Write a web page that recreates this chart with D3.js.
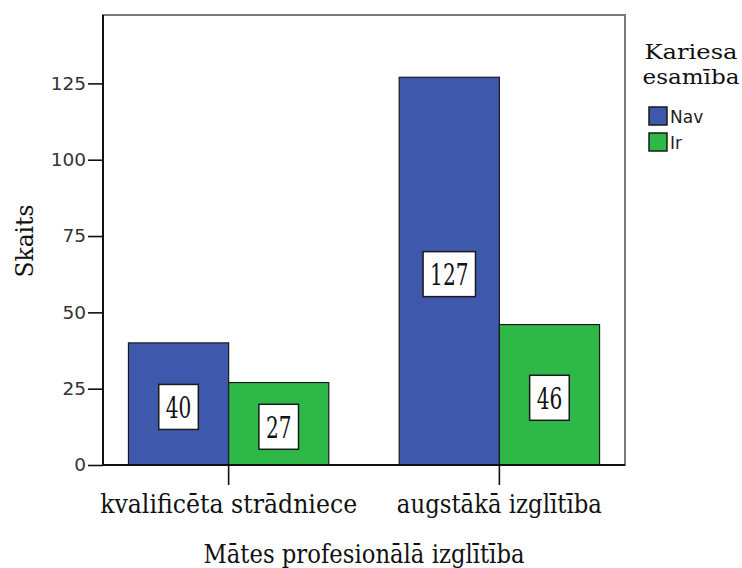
<!DOCTYPE html>
<html>
<head>
<meta charset="utf-8">
<script src="https://cdn.jsdelivr.net/npm/d3@7"></script>
<style>
  html, body { margin: 0; padding: 0; background: #fff; }
  svg { display: block; }
</style>
</head>
<body>
<svg id="chart" width="742" height="568"></svg>
<script>
// Caries presence by mother's professional education
const categories = ["kvalificēta strādniece", "augstākā izglītība"];
const seriesNames = ["Nav", "Ir"];
const navValues = [40, 127];
const irValues = [27, 46];
const yTickValues = [0, 25, 50, 75, 100, 125];
const yMax = 147.4;

const colors = ["#3e58ac", "#2eb848"];
const serif = "'DejaVu Serif', serif";
const sans = "'DejaVu Sans', sans-serif";

const svg = d3.select("#chart");
const plot = { left: 103, right: 625, top: 15, bottom: 465 };

const x = d3.scaleBand()
  .domain(categories)
  .range([plot.left, plot.right])
  .paddingInner(0.26)
  .paddingOuter(0.094);

const xSub = d3.scaleBand()
  .domain(seriesNames)
  .range([0, x.bandwidth()]);

const y = d3.scaleLinear()
  .domain([0, yMax])
  .range([plot.bottom, plot.top]);

const rows = categories.map((c, i) => ({
  category: c,
  values: [
    { series: seriesNames[0], value: navValues[i] },
    { series: seriesNames[1], value: irValues[i] }
  ]
}));

// Squeeze or stretch a text node to a given width
function fitWidth(sel, w) {
  sel.attr("textLength", w).attr("lengthAdjust", "spacingAndGlyphs");
}

// plot frame
svg.append("rect")
  .attr("x", plot.left).attr("y", plot.top)
  .attr("width", plot.right - plot.left)
  .attr("height", plot.bottom - plot.top)
  .attr("fill", "none")
  .attr("stroke", "#7a7a7a")
  .attr("stroke-width", 2);

// bars
const groups = svg.append("g").selectAll("g")
  .data(rows).join("g")
  .attr("transform", d => `translate(${x(d.category)},0)`);

groups.selectAll("rect")
  .data(d => d.values).join("rect")
  .attr("x", d => xSub(d.series))
  .attr("y", d => y(d.value))
  .attr("width", xSub.bandwidth())
  .attr("height", d => y(0) - y(d.value))
  .attr("fill", (d, i) => colors[i])
  .attr("stroke", "#1a1a1a")
  .attr("stroke-width", 1.2);

// value labels in boxes
const labels = groups.selectAll("g.lbl")
  .data(d => d.values).join("g")
  .attr("class", "lbl")
  .attr("transform", d => `translate(${xSub(d.series) + xSub.bandwidth() / 2},${y(d.value / 2) + 3})`);

labels.append("rect")
  .attr("x", d => -(String(d.value).length * 12.8 + 14) / 2)
  .attr("y", -22.5)
  .attr("width", d => String(d.value).length * 12.8 + 14)
  .attr("height", 45)
  .attr("fill", "#fff")
  .attr("stroke", "#1a1a1a")
  .attr("stroke-width", 1.5);

labels.append("text")
  .attr("text-anchor", "middle")
  .attr("y", 11)
  .style("font-family", serif)
  .style("font-size", "30px")
  .attr("fill", "#111")
  .text(d => d.value)
  .each(function (d) { fitWidth(d3.select(this), String(d.value).length * 12.8); });

// y axis
const yAxis = svg.append("g")
  .attr("transform", `translate(${plot.left},0)`)
  .call(d3.axisLeft(y).tickValues(yTickValues).tickSize(15).tickPadding(2).tickSizeOuter(0));
yAxis.select(".domain").attr("stroke", "#111").attr("stroke-width", 2)
  .attr("d", `M0,${plot.top}V${plot.bottom}`);
yAxis.selectAll(".tick line").attr("stroke", "#111").attr("stroke-width", 1.6);
yAxis.selectAll(".tick text")
  .style("font-family", sans)
  .style("font-size", "18.5px")
  .attr("fill", "#333");

// x axis baseline and category ticks
const xAxis = svg.append("g")
  .attr("transform", `translate(0,${plot.bottom})`)
  .call(d3.axisBottom(x).tickSize(20).tickPadding(10).tickSizeOuter(0));
xAxis.select(".domain").attr("stroke", "#111").attr("stroke-width", 2)
  .attr("d", `M${plot.left},0H${plot.right}`);
xAxis.selectAll(".tick line").attr("stroke", "#111").attr("stroke-width", 1.6);
const catWidths = [257, 205];
xAxis.selectAll(".tick text")
  .style("font-family", serif)
  .style("font-size", "26px")
  .attr("fill", "#111")
  .attr("dy", null)
  .attr("y", 48)
  .each(function (d, i) { fitWidth(d3.select(this), catWidths[i]); });

// axis titles
svg.append("text")
  .attr("x", (plot.left + plot.right) / 2)
  .attr("y", 563)
  .attr("text-anchor", "middle")
  .style("font-family", serif)
  .style("font-size", "26px")
  .attr("fill", "#111")
  .text("Mātes profesionālā izglītība")
  .call(fitWidth, 321);

svg.append("text")
  .attr("transform", "translate(33,241) rotate(-90)")
  .attr("text-anchor", "middle")
  .style("font-family", serif)
  .style("font-size", "25px")
  .attr("fill", "#111")
  .text("Skaits")
  .call(fitWidth, 73);

// legend
const legend = svg.append("g");
legend.append("text")
  .attr("x", 691).attr("y", 59)
  .attr("text-anchor", "middle")
  .style("font-family", serif).style("font-size", "21px").attr("fill", "#111")
  .text("Kariesa").call(fitWidth, 93);
legend.append("text")
  .attr("x", 691).attr("y", 84)
  .attr("text-anchor", "middle")
  .style("font-family", serif).style("font-size", "21px").attr("fill", "#111")
  .text("esamība").call(fitWidth, 97);

const items = legend.selectAll("g.item")
  .data(seriesNames).join("g")
  .attr("class", "item")
  .attr("transform", (d, i) => `translate(649,${107 + i * 26})`);
items.append("rect")
  .attr("width", 18).attr("height", 18)
  .attr("fill", (d, i) => colors[i])
  .attr("stroke", "#1a1a1a").attr("stroke-width", 1.5);
items.append("text")
  .attr("x", 21).attr("y", 16)
  .style("font-family", sans).style("font-size", "17px").attr("fill", "#222")
  .text(d => d);
</script>
</body>
</html>
